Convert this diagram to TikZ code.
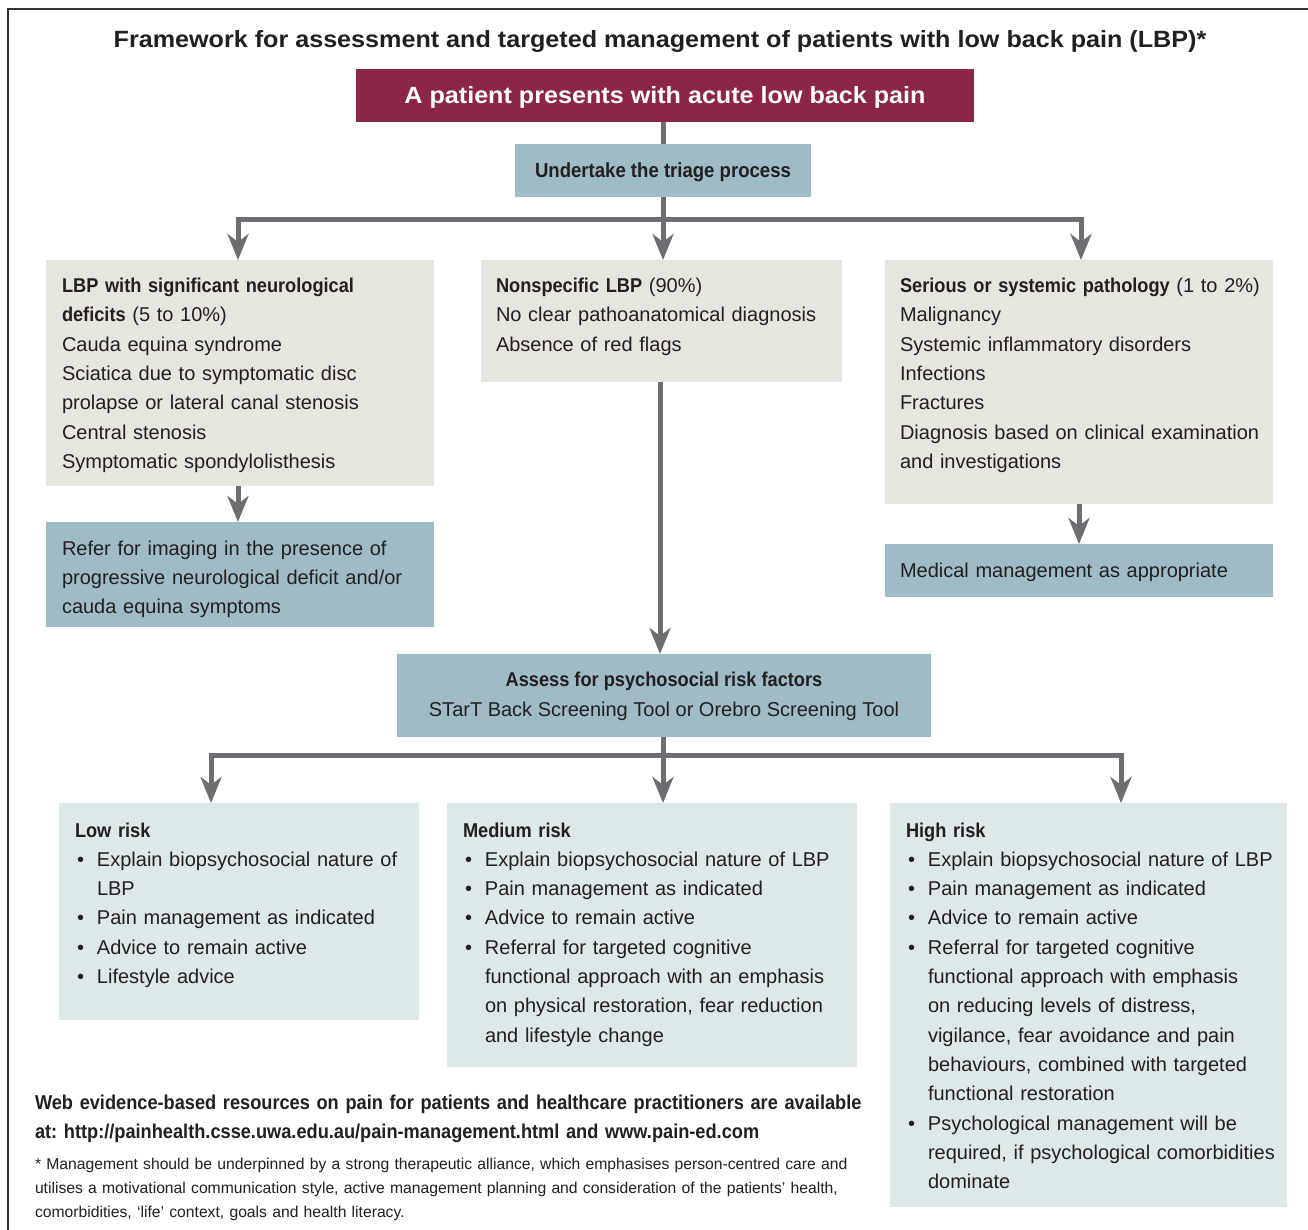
\documentclass[tikz,border=0pt]{standalone}
\usepackage{fontspec}
\setmainfont{Liberation Sans}[BoldFeatures={FakeStretch=0.91}]
\newfontfamily\titlefont{Liberation Sans}[BoldFeatures={FakeStretch=1.07}]
\usetikzlibrary{arrows.meta}
\definecolor{redc}{HTML}{8B2549}
\definecolor{bluec}{HTML}{9FBBC6}
\definecolor{beigec}{HTML}{E6E5DE}
\definecolor{lightc}{HTML}{DDE8E8}
\definecolor{arrc}{HTML}{6D6E71}
\definecolor{txtc}{HTML}{231F20}
\definecolor{framec}{HTML}{333333}
\newcommand\fs{\fontsize{20}{29.3}\selectfont}
\newcommand\fst{\rule{0pt}{20.5pt}}
\newcommand\bul{\makebox[22pt][l]{\hspace{2pt}\textbullet}}
\newcommand\hind{\hspace*{22pt}}
\frenchspacing
\tikzset{
  boxn/.style={inner sep=0pt, outer sep=0pt, anchor=north west},
  txt/.style={inner sep=0pt, outer sep=0pt, anchor=north west, align=left, text width=420pt, font=\fs, text=txtc},
  conn/.style={draw=arrc, line width=5pt},
  arr/.style={conn, -{Stealth[length=26pt, width=21pt, inset=8pt]}},
}
\begin{document}
\begin{tikzpicture}[x=1pt, y=-1pt]
\useasboundingbox[fill=white] (0,0) rectangle (1308,1230);
\draw[framec, line width=1.5pt] (8,1230) -- (8,9) -- (1308,9);

% title
\node[anchor=base, inner sep=0pt, font=\titlefont\bfseries\fontsize{23.5}{28}\selectfont, text=txtc] (title) at (660,48)
  {Framework for assessment and targeted management of patients with low back pain (LBP)*};

% top boxes
\node[boxn, fill=redc, minimum width=618pt, minimum height=53pt, anchor=center, text=white,
  font=\titlefont\bfseries\fontsize{23.5}{28}\selectfont, text height=21.8pt, text depth=5pt] (red) at (665,95.5)
  {A patient presents with acute low back pain};
\node[boxn, fill=bluec, minimum width=296pt, minimum height=53pt, anchor=center, text=txtc,
  font=\bfseries\fontsize{20.4}{24}\selectfont, text height=19.5pt, text depth=5pt] (triage) at (663,170.5)
  {Undertake the triage process};

% second row boxes
\node[boxn, fill=beigec, minimum width=388pt, minimum height=226pt] (lb1) at (46,260) {};
\node[boxn, fill=beigec, minimum width=361pt, minimum height=122pt] (mid) at (481,260) {};
\node[boxn, fill=beigec, minimum width=388pt, minimum height=244pt] (rb) at (885,260) {};
\node[boxn, fill=bluec, minimum width=388pt, minimum height=105pt] (refer) at (46,522) {};
\node[boxn, fill=bluec, minimum width=388pt, minimum height=53pt] (med) at (885,544) {};
\node[boxn, fill=bluec, minimum width=534pt, minimum height=83pt] (assess) at (397,654) {};

\node[txt] (lb1t) at ([shift={(16pt,-12pt)}]lb1.north west) {\noindent\fst\textbf{LBP with significant neurological}\\
\textbf{deficits} (5 to 10\%)\\
Cauda equina syndrome\\
Sciatica due to symptomatic disc\\
prolapse or lateral canal stenosis\\
Central stenosis\\
Symptomatic spondylolisthesis};

\node[txt] (midt) at ([shift={(15pt,-12pt)}]mid.north west) {\noindent\fst\textbf{Nonspecific LBP} (90\%)\\
No clear pathoanatomical diagnosis\\
Absence of red flags};

\node[txt] (rbt) at ([shift={(15pt,-12pt)}]rb.north west) {\noindent\fst\textbf{Serious or systemic pathology} (1 to 2\%)\\
Malignancy\\
Systemic inflammatory disorders\\
Infections\\
Fractures\\
Diagnosis based on clinical examination\\
and investigations};

\node[txt] (refert) at ([shift={(16pt,-12.5pt)}]refer.north west) {\noindent\fst Refer for imaging in the presence of\\
progressive neurological deficit and/or\\
cauda equina symptoms};

\node[txt] (medt) at ([shift={(15pt,-12.5pt)}]med.north west) {\noindent\fst Medical management as appropriate};

\node[inner sep=0pt, anchor=center, align=center, font=\fs, text=txtc] (assesst) at (664,695.5)
  {\fst\textbf{Assess for psychosocial risk factors}\rule[-8.8pt]{0pt}{0pt}\\
   \fst STarT Back Screening Tool or Orebro Screening Tool\rule[-8.8pt]{0pt}{8.8pt}};

% risk boxes
\node[boxn, fill=lightc, minimum width=360pt, minimum height=217pt] (low) at (59,803) {};
\node[boxn, fill=lightc, minimum width=410pt, minimum height=264pt] (medium) at (447,803) {};
\node[boxn, fill=lightc, minimum width=397pt, minimum height=404pt] (high) at (890,803) {};

\node[txt] (lowt) at ([shift={(16pt,-13.5pt)}]low.north west) {\noindent\fst\textbf{Low risk}\\
\bul Explain biopsychosocial nature of\\
\hind LBP\\
\bul Pain management as indicated\\
\bul Advice to remain active\\
\bul Lifestyle advice};

\node[txt] (mediumt) at ([shift={(16pt,-13.5pt)}]medium.north west) {\noindent\fst\textbf{Medium risk}\\
\bul Explain biopsychosocial nature of LBP\\
\bul Pain management as indicated\\
\bul Advice to remain active\\
\bul Referral for targeted cognitive\\
\hind functional approach with an emphasis\\
\hind on physical restoration, fear reduction\\
\hind and lifestyle change};

\node[txt] (hight) at ([shift={(16pt,-13.5pt)}]high.north west) {\noindent\fst\textbf{High risk}\\
\bul Explain biopsychosocial nature of LBP\\
\bul Pain management as indicated\\
\bul Advice to remain active\\
\bul Referral for targeted cognitive\\
\hind functional approach with emphasis\\
\hind on reducing levels of distress,\\
\hind vigilance, fear avoidance and pain\\
\hind behaviours, combined with targeted\\
\hind functional restoration\\
\bul Psychological management will be\\
\hind required, if psychological comorbidities\\
\hind dominate};

% footer
\node[txt, text width=900pt, font=\bfseries\fontsize{20}{29}\selectfont] (web) at (35,1088.5)
  {\noindent\fst Web evidence-based resources on pain for patients and healthcare practitioners are available\\
   at: http://painhealth.csse.uwa.edu.au/pain-management.html and www.pain-ed.com};
\node[txt, text width=900pt, font=\fontsize{15.7}{24}\selectfont] (note) at (35,1152.5)
  {\noindent\rule{0pt}{17pt}* Management should be underpinned by a strong therapeutic alliance, which emphasises person-centred care and\\
   utilises a motivational communication style, active management planning and consideration of the patients' health,\\
   comorbidities, `life' context, goals and health literacy.};

% connectors
\coordinate (j1) at (663,220);
\coordinate (j1l) at (238,220);
\coordinate (j1r) at (1081,220);
\draw[conn] (triage.north |- red.south) -- (triage.north);
\draw[conn] (triage.south) -- (j1);
\draw[arr] (j1) -- (j1l) -- (j1l |- lb1.north);
\draw[arr] (j1) -- (j1r) -- (j1r |- rb.north);
\draw[arr] (j1) -- (j1 |- mid.north);

\coordinate (a1) at (238,486);
\draw[arr] (a1) -- (a1 |- refer.north);
\coordinate (a2) at (1079,504);
\draw[arr] (a2) -- (a2 |- med.north);
\coordinate (a3) at (660,382);
\draw[arr] (a3) -- (a3 |- assess.north);

\coordinate (j2) at (663,755);
\coordinate (j2l) at (211,755);
\coordinate (j2r) at (1121,755);
\draw[conn] (assess.south -| j2) -- (j2);
\draw[arr] (j2) -- (j2l) -- (j2l |- low.north);
\draw[arr] (j2) -- (j2r) -- (j2r |- high.north);
\draw[arr] (j2) -- (j2 |- medium.north);
\end{tikzpicture}
\end{document}
